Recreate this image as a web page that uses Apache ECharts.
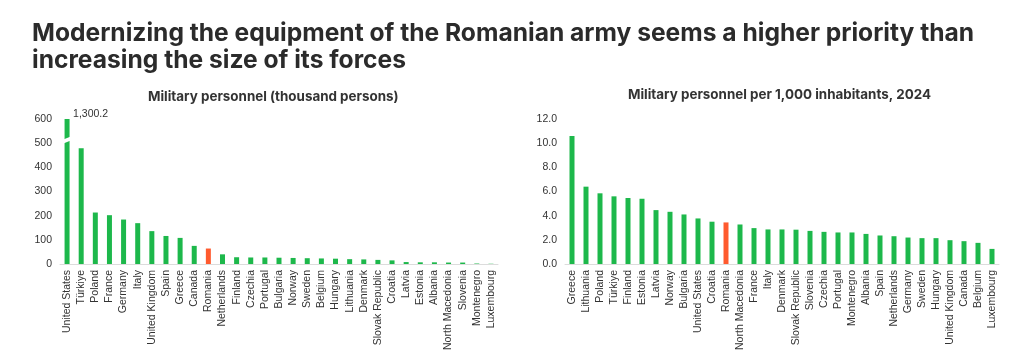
<!DOCTYPE html>
<html>
<head>
<meta charset="utf-8">
<script src="https://cdn.jsdelivr.net/npm/echarts@6/dist/echarts.min.js"></script>
<style>
html,body{margin:0;padding:0;background:#fff;}
#c{width:1024px;height:360px;}
</style>
</head>
<body>
<div id="c"></div>
<script>
const titleText = 'Modernizing the equipment of the Romanian army seems a higher priority than\nincreasing the size of its forces';
const leftTitle = 'Military personnel (thousand persons)';
const rightTitle = 'Military personnel per 1,000 inhabitants, 2024';

const leftCategories = ['United States','Türkiye','Poland','France','Germany','Italy','United Kingdom','Spain','Greece','Canada','Romania','Netherlands','Finland','Czechia','Portugal','Bulgaria','Norway','Sweden','Belgium','Hungary','Lithuania','Denmark','Slovak Republic','Croatia','Latvia','Estonia','Albania','North Macedonia','Slovenia','Montenegro','Luxembourg'];
const leftValues = [1300.2,479,213,202,184,169,136,116,108,75,64,40,28,27,27,26,25,24,23,22,20,19,17,15,8,7,7,6,6,2,1];

const rightCategories = ['Greece','Lithuania','Poland','Türkiye','Finland','Estonia','Latvia','Norway','Bulgaria','United States','Croatia','Romania','North Macedonia','France','Italy','Denmark','Slovak Republic','Slovenia','Czechia','Portugal','Montenegro','Albania','Spain','Netherlands','Germany','Sweden','Hungary','United Kingdom','Canada','Belgium','Luxembourg'];
const rightValues = [10.6,6.4,5.85,5.6,5.46,5.4,4.46,4.32,4.1,3.77,3.5,3.44,3.27,2.97,2.86,2.86,2.84,2.74,2.66,2.61,2.61,2.49,2.36,2.3,2.19,2.14,2.14,1.97,1.89,1.75,1.25];

const leftTicks = {min:0, max:600, interval:100};
const rightTicks = {min:0, max:12, interval:2};

const GREEN = '#1db84b';
const ORANGE = '#ff5a2e';
const highlight = 'Romania';

function colorFor(cats){
  return function(p){ return cats[p.dataIndex] === highlight ? ORANGE : GREEN; };
}

const chart = echarts.init(document.getElementById('c'), null, {renderer:'canvas'});

const axisLabelY = {color:'#333', fontSize:10.5, fontFamily:'Liberation Sans, Arial, sans-serif', margin:8};
const axisLabelX = {color:'#333', fontSize:10.5, fontFamily:'Liberation Sans, Arial, sans-serif', rotate:90, interval:0, margin:6};

chart.setOption({
  animation:false,
  backgroundColor:'#fff',
  title:[
    {text:titleText, left:27, top:15, textStyle:{fontFamily:'Inter', fontWeight:'bold', fontSize:24.6, lineHeight:27, color:'#2b2b2b'}},
    {text:leftTitle, left:143, top:85, textStyle:{fontFamily:'Inter', fontWeight:'bold', fontSize:13.4, color:'#333'}},
    {text:rightTitle, left:623, top:83, textStyle:{fontFamily:'Inter', fontWeight:'bold', fontSize:13.4, color:'#333'}}
  ],
  grid:[
    {left:60, right:526, top:119, bottom:96},
    {left:565, right:25, top:119, bottom:96}
  ],
  xAxis:[
    {type:'category', gridIndex:0, data:leftCategories, axisTick:{show:false}, axisLine:{lineStyle:{color:'#dcdcdc'}}, axisLabel:axisLabelX},
    {type:'category', gridIndex:1, data:rightCategories, axisTick:{show:false}, axisLine:{lineStyle:{color:'#dcdcdc'}}, axisLabel:axisLabelX}
  ],
  yAxis:[
    {type:'value', gridIndex:0, min:leftTicks.min, max:leftTicks.max, interval:leftTicks.interval, splitLine:{show:false}, axisLine:{show:false}, axisTick:{show:false}, axisLabel:axisLabelY},
    {type:'value', gridIndex:1, min:rightTicks.min, max:rightTicks.max, interval:rightTicks.interval, splitLine:{show:false}, axisLine:{show:false}, axisTick:{show:false}, axisLabel:Object.assign({}, axisLabelY, {formatter:v=>v.toFixed(1)})}
  ],
  series:[
    {type:'bar', xAxisIndex:0, yAxisIndex:0, data:leftValues, barWidth:5, clip:true, itemStyle:{color:colorFor(leftCategories)}},
    {type:'bar', xAxisIndex:1, yAxisIndex:1, data:rightValues, barWidth:5, itemStyle:{color:colorFor(rightCategories)}}
  ]
});

// Axis break mark and value label for the clipped United States bar
const usIdx = leftCategories.indexOf('United States');
const usTop = chart.convertToPixel({xAxisIndex:0, yAxisIndex:0}, [usIdx, leftTicks.max]);
const usBrk = chart.convertToPixel({xAxisIndex:0, yAxisIndex:0}, [usIdx, 505]);
chart.setOption({
  graphic:[
    {type:'polygon', shape:{points:[[usBrk[0]-5, usBrk[1]+2],[usBrk[0]+5, usBrk[1]-2],[usBrk[0]+5, usBrk[1]-6],[usBrk[0]-5, usBrk[1]-2]]}, style:{fill:'#fff'}, z:100},
    {type:'text', x:usTop[0]+6, y:usTop[1]-10, style:{text:(leftValues[usIdx]).toLocaleString('en-US',{minimumFractionDigits:1}), fill:'#333', fontSize:10.5, fontFamily:'Liberation Sans, Arial, sans-serif'}, z:100}
  ]
});
</script>
</body>
</html>
